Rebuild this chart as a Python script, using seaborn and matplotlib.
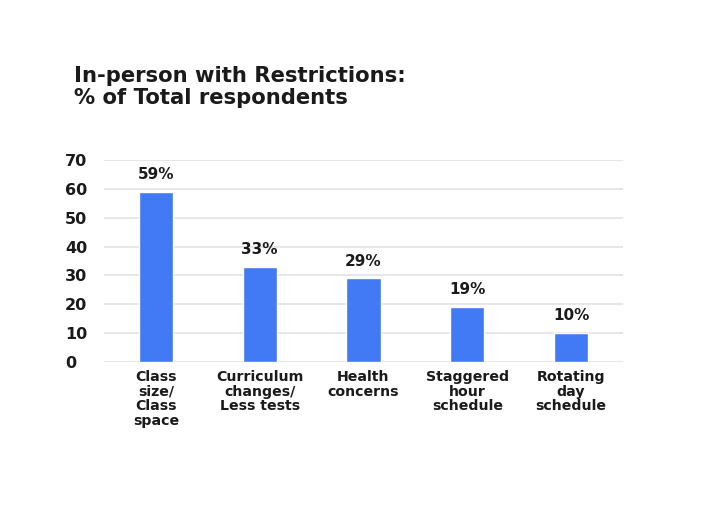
import matplotlib
matplotlib.use("Agg")
import matplotlib.pyplot as plt
import seaborn as sns
import pandas as pd

categories = ["Class\nsize/\nClass\nspace", "Curriculum\nchanges/\nLess tests", "Health\nconcerns",
              "Staggered\nhour\nschedule", "Rotating\nday\nschedule"]
values = [59, 33, 29, 19, 10]
bar_labels = ["59%", "33%", "29%", "19%", "10%"]
yticks = [0, 10, 20, 30, 40, 50, 60, 70]
title = "In-person with Restrictions:\n% of Total respondents"

sns.set_theme(style="white")
plt.rcParams['font.family'] = ['DejaVu Sans']

W, H = 713, 509
fig = plt.figure(figsize=(W / 100, H / 100), dpi=100)
ax = fig.add_axes([104 / W, 1 - 362 / H, 519 / W, 202 / H])

df = pd.DataFrame({"cat": categories, "val": values})
sns.barplot(data=df, x="cat", y="val", color="#4279F5", saturation=1, width=0.33, ax=ax, zorder=3)

ax.set_ylim(0, 70)
ax.set_xlim(-0.5, 4.5)
ax.set_yticks(yticks)
ax.set_yticklabels([str(t) for t in yticks], fontsize=11.5, fontweight="bold", color="#1a1a1a", ha="left")
ax.tick_params(axis="y", length=0, pad=28)
ax.tick_params(axis="x", length=0, pad=6)
for lbl in ax.get_xticklabels():
    lbl.set_fontsize(10.2)
    lbl.set_fontweight("bold")
    lbl.set_color("#1a1a1a")
    lbl.set_linespacing(1.05)
ax.set_xlabel("")
ax.set_ylabel("")
for s in ax.spines.values():
    s.set_visible(False)
ax.grid(axis="y", color="#e3e3e3", linewidth=1.2, zorder=0)
ax.set_axisbelow(True)

for cont in ax.containers:
    ax.bar_label(cont, labels=bar_labels, padding=7, fontsize=11, fontweight="bold", color="#1a1a1a")

fig.text(74 / W, 1 - 66 / H, title, fontsize=15.2, fontweight="bold", color="#1a1a1a",
         va="top", ha="left", linespacing=1.15)

fig.savefig("out.png", dpi=100, facecolor="white")
